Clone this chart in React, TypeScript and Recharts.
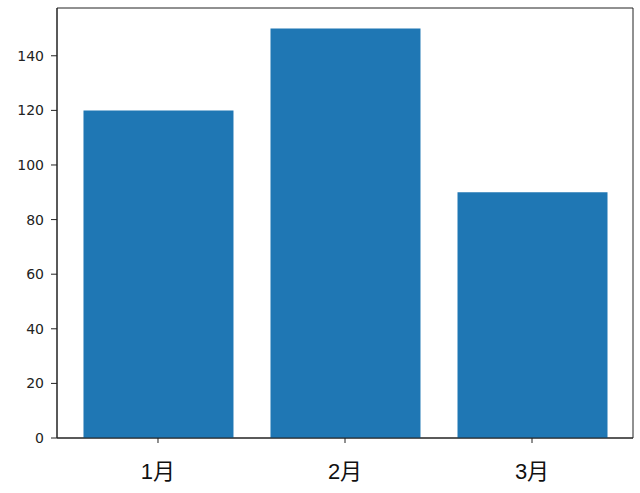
import { Bar, BarChart, ReferenceArea, XAxis, YAxis } from "recharts";

const months = ["1月", "2月", "3月"];
const sales = [120, 150, 90];
const yTicks = [0, 20, 40, 60, 80, 100, 120, 140];

const data = months.map((m, i) => ({ x: i, label: m, value: sales[i] }));

const numFont = "'DejaVu Sans', sans-serif";
const labelFont = "'Liberation Sans', 'Noto Sans CJK SC', sans-serif";

export default function App() {
  return (
    <div style={{ position: "absolute", left: 0, top: 0, background: "#fff" }}>
      <BarChart
        width={640}
        height={493}
        data={data}
        margin={{ top: 8, right: 7, bottom: 0, left: 0 }}
      >
        <XAxis
          dataKey="x"
          type="number"
          domain={[-0.54, 2.54]}
          ticks={[0, 1, 2]}
          tickFormatter={(v) => months[Number(v)]}
          height={55}
          tickSize={5}
          tickMargin={20}
          stroke="#222"
          tick={{ fontSize: 22, fill: "#111", fontFamily: labelFont }}
        />
        <YAxis
          domain={[0, 157.5]}
          ticks={yTicks}
          width={57}
          tickSize={6}
          tickMargin={7}
          stroke="#222"
          tick={{ fontSize: 14, fill: "#222", fontFamily: numFont }}
        />
        <ReferenceArea
          x1={-0.54}
          x2={2.54}
          y1={0}
          y2={157.5}
          fill="none"
          stroke="#222"
          strokeWidth={1}
        />
        <Bar dataKey="value" fill="#1f77b4" barSize={150} isAnimationActive={false} />
      </BarChart>
    </div>
  );
}
